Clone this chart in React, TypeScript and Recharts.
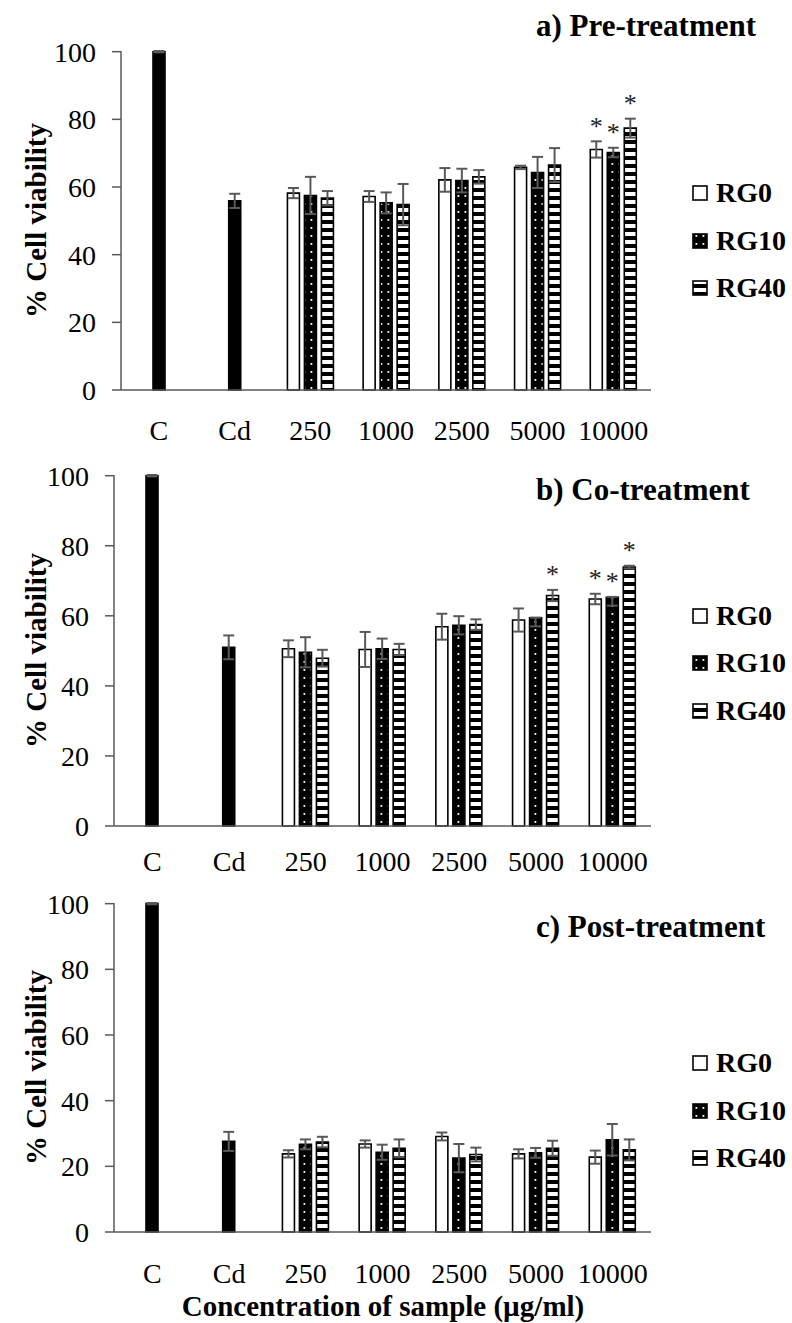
import { BarChart, Bar, XAxis, YAxis, ErrorBar, Cell, LabelList } from "recharts";

const FONT = '"Liberation Serif", "Times New Roman", serif';
const AXIS = "#595959";

const categories = ["C", "Cd", "250", "1000", "2500", "5000", "10000"];
const yTicks = [0, 20, 40, 60, 80, 100];
const seriesNames = ["RG0", "RG10", "RG40"];

// a) Pre-treatment
const preControl = [100, 55.9];
const preControlErr = [0.2, 2.1];
const preRG0 = [58.2, 57.2, 62.1, 65.8, 71.1];
const preRG0Err = [1.5, 1.6, 3.5, 0.5, 2.4];
const preRG10 = [57.5, 55.3, 61.9, 64.3, 70.2];
const preRG10Err = [5.5, 3.1, 3.5, 4.6, 1.4];
const preRG40 = [56.7, 54.8, 63.0, 66.5, 77.4];
const preRG40Err = [2.1, 6.1, 2.0, 5.0, 2.8];
const preRG0Star = ["", "", "", "", "*"];
const preRG10Star = ["", "", "", "", "*"];
const preRG40Star = ["", "", "", "", "*"];

// b) Co-treatment
const coControl = [100, 51.0];
const coControlErr = [0.2, 3.4];
const coRG0 = [50.6, 50.4, 56.9, 58.8, 64.8];
const coRG0Err = [2.4, 5.0, 3.7, 3.3, 1.5];
const coRG10 = [49.6, 50.6, 57.3, 59.4, 65.3];
const coRG10Err: (number | number[])[] = [4.3, 2.9, 2.6, [2.4, 0.1], [2.4, 0.1]];
const coRG40 = [47.9, 50.4, 57.5, 65.8, 73.9];
const coRG40Err = [2.4, 1.6, 1.5, 1.6, 0.4];
const coRG0Star = ["", "", "", "", "*"];
const coRG10Star = ["", "", "", "", "*"];
const coRG40Star = ["", "", "", "*", "*"];

// c) Post-treatment
const postControl = [100, 27.6];
const postControlErr = [0.2, 2.9];
const postRG0 = [23.8, 26.8, 29.1, 23.8, 22.8];
const postRG0Err = [1.1, 1.1, 1.2, 1.4, 2.0];
const postRG10 = [26.7, 24.3, 22.5, 24.1, 28.1];
const postRG10Err = [1.5, 2.3, 4.3, 1.5, 4.8];
const postRG40 = [27.4, 25.5, 23.6, 25.5, 25.0];
const postRG40Err = [1.6, 2.7, 2.1, 2.3, 3.2];
const postRG0Star = ["", "", "", "", ""];
const postRG10Star = ["", "", "", "", ""];
const postRG40Star = ["", "", "", "", ""];

type Err = number | number[];

type PanelSpec = {
  id: string;
  title: string;
  top: number;
  height: number;
  marginTop: number;
  marginBottom: number;
  yAxisWidth: number;
  tickMargin: number;
  titleBaseline: number;
  legendRows: number[];
  control: number[];
  controlErr: Err[];
  values: number[][];
  errors: Err[][];
  stars: string[][];
};

const panels: PanelSpec[] = [
  {
    id: "a",
    title: "a) Pre-treatment",
    top: 0,
    height: 450,
    marginTop: 51,
    marginBottom: 10,
    yAxisWidth: 121,
    tickMargin: 24,
    titleBaseline: 36,
    legendRows: [193, 241, 288],
    control: preControl,
    controlErr: preControlErr,
    values: [preRG0, preRG10, preRG40],
    errors: [preRG0Err, preRG10Err, preRG40Err],
    stars: [preRG0Star, preRG10Star, preRG40Star],
  },
  {
    id: "b",
    title: "b) Co-treatment",
    top: 450,
    height: 445,
    marginTop: 25,
    marginBottom: 19,
    yAxisWidth: 114,
    tickMargin: 19,
    titleBaseline: 500,
    legendRows: [616, 663, 711],
    control: coControl,
    controlErr: coControlErr,
    values: [coRG0, coRG10, coRG40],
    errors: [coRG0Err, coRG10Err, coRG40Err],
    stars: [coRG0Star, coRG10Star, coRG40Star],
  },
  {
    id: "c",
    title: "c) Post-treatment",
    top: 880,
    height: 443,
    marginTop: 23,
    marginBottom: 41,
    yAxisWidth: 114,
    tickMargin: 25,
    titleBaseline: 937,
    legendRows: [1063, 1111, 1158],
    control: postControl,
    controlErr: postControlErr,
    values: [postRG0, postRG10, postRG40],
    errors: [postRG0Err, postRG10Err, postRG40Err],
    stars: [postRG0Star, postRG10Star, postRG40Star],
  },
];

const X_AXIS_H = 50;

const upper = (e: Err | null) => (Array.isArray(e) ? e[1] : e ?? 0);

// C and Cd sit in the middle slot so they end up centred on their category.
// *Mark holds the height of the upper whisker for bars flagged with a star.
function buildRows(p: PanelSpec) {
  return categories.map((cat, i) => {
    const ctl = i < 2;
    const j = i - 2;
    const row: any = {
      cat,
      rg0: ctl ? null : p.values[0][j],
      rg0Err: ctl ? null : p.errors[0][j],
      mid: ctl ? p.control[i] : p.values[1][j],
      midErr: ctl ? p.controlErr[i] : p.errors[1][j],
      rg40: ctl ? null : p.values[2][j],
      rg40Err: ctl ? null : p.errors[2][j],
    };
    ["rg0", "mid", "rg40"].forEach((k, s) => {
      const star = ctl ? "" : p.stars[s][j];
      row[`${k}Mark`] = star ? row[k] + upper(row[`${k}Err`]) : null;
    });
    return row;
  });
}

const starLabel = (toPx: (v: number) => number) => (props: any) => {
  const { value } = props;
  if (value == null || value === "") return null;
  const vb = props.viewBox ?? props;
  return (
    <text x={vb.x + vb.width / 2} y={toPx(Number(value)) - 6} textAnchor="middle" fontFamily={FONT} fontSize={26} fill="#222">
      *
    </text>
  );
};

function PatternDefs({ id }: { id: string }) {
  return (
    <defs>
      <pattern id={`dots-${id}`} patternUnits="userSpaceOnUse" width={7} height={8}>
        <rect width={7} height={8} fill="#000" />
        <rect x={2.5} y={3} width={1.8} height={1.8} fill="#fff" />
      </pattern>
      <pattern id={`stripes-${id}`} patternUnits="userSpaceOnUse" width={8} height={8}>
        <rect width={8} height={8} fill="#000" />
        <rect y={0} width={8} height={4} fill="#fff" />
      </pattern>
    </defs>
  );
}

function Panel({ p }: { p: PanelSpec }) {
  const rows = buildRows(p);
  const plotH = p.height - p.marginTop - p.marginBottom - X_AXIS_H;
  const cy = p.marginTop + plotH / 2;
  const toPx = (v: number) => p.marginTop + plotH * (1 - v / 100);
  const errStyle = { stroke: AXIS, strokeWidth: 2, width: 5.5 };
  const star = starLabel(toPx);

  return (
    <div style={{ position: "absolute", left: 0, top: p.top }}>
      <BarChart
        width={792}
        height={p.height}
        data={rows}
        margin={{ top: p.marginTop, right: 141, bottom: p.marginBottom, left: 0 }}
        barGap={5}
      >
        <PatternDefs id={p.id} />
        <XAxis
          dataKey="cat"
          height={X_AXIS_H}
          interval={0}
          tickLine={false}
          tickMargin={p.tickMargin}
          axisLine={{ stroke: AXIS, strokeWidth: 1.5 }}
          tick={{ fontFamily: FONT, fontSize: 28, fill: "#000" }}
        />
        <YAxis
          width={p.yAxisWidth}
          domain={[0, 100]}
          ticks={yTicks}
          interval={0}
          tickSize={9}
          tickMargin={16}
          axisLine={{ stroke: AXIS, strokeWidth: 1.5 }}
          tickLine={{ stroke: AXIS, strokeWidth: 1.5 }}
          tick={{ fontFamily: FONT, fontSize: 28, fill: "#000" }}
          label={() => (
            <text
              transform={`translate(36, ${cy}) rotate(-90)`}
              textAnchor="middle"
              dominantBaseline="central"
              fontFamily={FONT}
              fontSize={29}
              fontWeight="bold"
              fill="#000"
            >
              % Cell viability
            </text>
          )}
        />
        <Bar dataKey="rg0" name={seriesNames[0]} barSize={12} fill="#fff" stroke="#000" strokeWidth={1.6} isAnimationActive={false}>
          <ErrorBar dataKey="rg0Err" {...errStyle} />
          <LabelList dataKey="rg0Mark" content={star} />
        </Bar>
        <Bar dataKey="mid" name={seriesNames[1]} barSize={12} stroke="#000" strokeWidth={1.6} isAnimationActive={false}>
          {rows.map((r, i) => (
            <Cell key={r.cat} fill={i < 2 ? "#000" : `url(#dots-${p.id})`} />
          ))}
          <ErrorBar dataKey="midErr" {...errStyle} />
          <LabelList dataKey="midMark" content={star} />
        </Bar>
        <Bar dataKey="rg40" name={seriesNames[2]} barSize={12} fill={`url(#stripes-${p.id})`} stroke="#000" strokeWidth={1.6} isAnimationActive={false}>
          <ErrorBar dataKey="rg40Err" {...errStyle} />
          <LabelList dataKey="rg40Mark" content={star} />
        </Bar>
      </BarChart>
    </div>
  );
}

function Overlay() {
  const swatchFill = ["#fff", "url(#dots-lg)", "url(#stripes-lg)"];
  return (
    <svg width={792} height={1323} style={{ position: "absolute", left: 0, top: 0, pointerEvents: "none" }}>
      <PatternDefs id="lg" />
      {panels.map((p) => (
        <g key={p.id}>
          <text x={536} y={p.titleBaseline} fontFamily={FONT} fontSize={31} fontWeight="bold" fill="#000">
            {p.title}
          </text>
          {seriesNames.map((name, k) => (
            <g key={name}>
              <rect x={693} y={p.legendRows[k] - 7} width={14} height={14} fill={swatchFill[k]} stroke="#000" strokeWidth={1.6} />
              <text x={716} y={p.legendRows[k] + 9} fontFamily={FONT} fontSize={28} fontWeight="bold" fill="#000">
                {name}
              </text>
            </g>
          ))}
        </g>
      ))}
      <text x={383} y={1316} textAnchor="middle" fontFamily={FONT} fontSize={29} fontWeight="bold" fill="#000">
        Concentration of sample (µg/ml)
      </text>
    </svg>
  );
}

export default function App() {
  return (
    <div style={{ position: "relative", width: 792, height: 1323, background: "#fff" }}>
      <style>{`body{margin:0}`}</style>
      {panels.map((p) => (
        <Panel key={p.id} p={p} />
      ))}
      <Overlay />
    </div>
  );
}
